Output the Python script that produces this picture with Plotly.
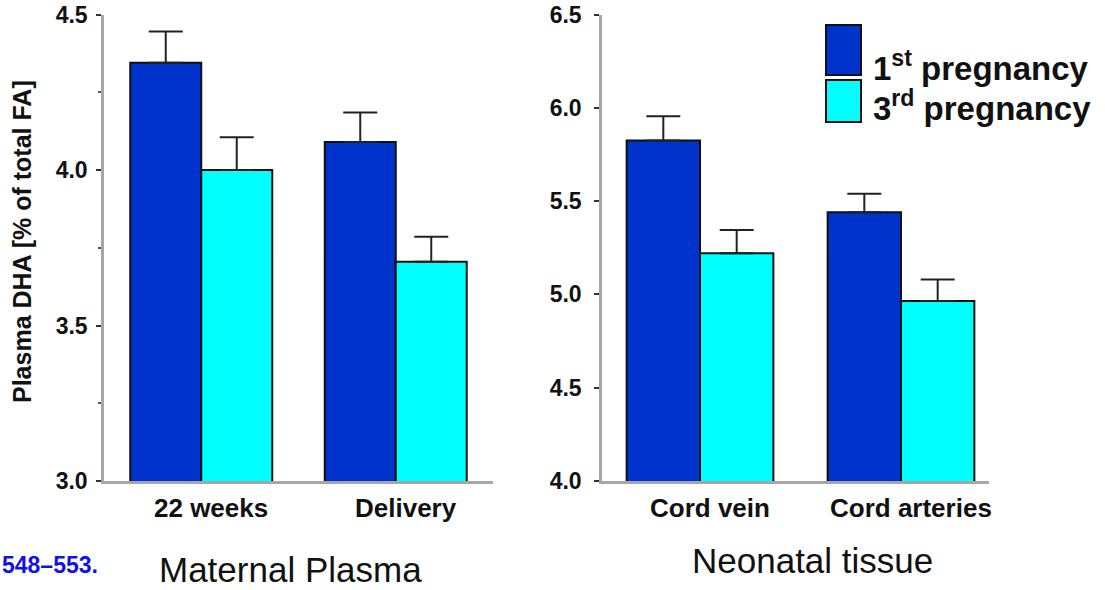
import plotly.graph_objects as go

# Data: plasma DHA (% of total fatty acids), mean and upper SEM
maternal_groups = ["22 weeks", "Delivery"]
neonatal_groups = ["Cord vein", "Cord arteries"]
series_names = ["1st pregnancy", "3rd pregnancy"]

maternal_first = [4.345, 4.09]
maternal_first_err = [0.10, 0.095]
maternal_third = [4.00, 3.705]
maternal_third_err = [0.105, 0.08]

neonatal_first = [5.825, 5.44]
neonatal_first_err = [0.13, 0.10]
neonatal_third = [5.22, 4.965]
neonatal_third_err = [0.125, 0.115]

maternal_ticks = [3.0, 3.5, 4.0, 4.5]
neonatal_ticks = [4.0, 4.5, 5.0, 5.5, 6.0, 6.5]

DARK = "#0033CC"
CYAN = "#00FFFF"
FONT = "Arial, Liberation Sans, sans-serif"
W, H = 1105, 590


def px(x):
    return x / W


def py(y):
    return 1 - y / H


def bar(x, y, err, name, color, xa, ya):
    return go.Bar(
        x=x, y=y, name=name, xaxis=xa, yaxis=ya,
        marker=dict(color=color, line=dict(color="#111111", width=2)),
        error_y=dict(type="data", symmetric=False, array=err,
                     arrayminus=[0] * len(err), color="#222222",
                     thickness=2, width=17),
        showlegend=False,
    )


fig = go.Figure()
fig.add_trace(bar(maternal_groups, maternal_first, maternal_first_err, series_names[0], DARK, "x", "y"))
fig.add_trace(bar(maternal_groups, maternal_third, maternal_third_err, series_names[1], CYAN, "x", "y"))
fig.add_trace(bar(neonatal_groups, neonatal_first, neonatal_first_err, series_names[0], DARK, "x2", "y2"))
fig.add_trace(bar(neonatal_groups, neonatal_third, neonatal_third_err, series_names[1], CYAN, "x2", "y2"))

axis_line = dict(showline=True, linecolor="#a6a6a6", linewidth=2.5, showgrid=False,
                 zeroline=False, automargin=False)
ytick_font = dict(family=FONT, size=23, color="#111111", weight="bold")

fig.update_layout(
    width=W, height=H,
    margin=dict(l=0, r=0, t=0, b=0, pad=0, autoexpand=False),
    paper_bgcolor="white", plot_bgcolor="white",
    barmode="group", bargap=0.27, bargroupgap=0,
    xaxis=dict(domain=[px(104), px(493)], range=[-0.5, 1.5], anchor="y",
               showticklabels=False, ticks="", **axis_line),
    yaxis=dict(domain=[py(481), py(14.5)], range=[3.0, 4.5], anchor="x",
               tickvals=maternal_ticks, tickformat=".1f", ticks="outside",
               ticklen=5, tickwidth=1.5, tickcolor="#333333", tickfont=ytick_font,
               ticklabelstandoff=4,
               minor=dict(dtick=0.25, ticks="outside", ticklen=3, tickwidth=1.5, tickcolor="#555555"),
               **axis_line),
    xaxis2=dict(domain=[px(602), px(989)], range=[-0.4876, 1.4378], anchor="y2",
                showticklabels=False, ticks="", **axis_line),
    yaxis2=dict(domain=[py(481), py(14.5)], range=[4.0, 6.5], anchor="x2",
                tickvals=neonatal_ticks, tickformat=".1f", ticks="outside",
                ticklen=5, tickwidth=1.5, tickcolor="#333333", tickfont=ytick_font,
                ticklabelstandoff=8, **axis_line),
)

annotations = []
# Category labels under each pair of bars
for ref, groups in (("x", maternal_groups), ("x2", neonatal_groups)):
    for g in groups:
        annotations.append(dict(x=g, y=py(508), xref=ref, yref="paper", text=f"<b>{g}</b>",
                                showarrow=False, xshift=10, xanchor="center", yanchor="middle",
                                font=dict(family=FONT, size=26, color="#111111")))

# Panel captions
annotations.append(dict(x=px(290), y=py(569), xref="paper", yref="paper", text="Maternal Plasma",
                        showarrow=False, xanchor="center", yanchor="middle",
                        font=dict(family=FONT, size=35, color="#111111")))
annotations.append(dict(x=px(812), y=py(560), xref="paper", yref="paper", text="Neonatal tissue",
                        showarrow=False, xanchor="center", yanchor="middle",
                        font=dict(family=FONT, size=35, color="#111111")))
annotations.append(dict(x=0, y=py(565), xref="paper", yref="paper", text="<b>548–553.</b>",
                        showarrow=False, xanchor="left", yanchor="middle",
                        font=dict(family=FONT, size=23, color="#1010EE")))

# Y-axis title
annotations.append(dict(x=px(22), y=py(242), xref="paper", yref="paper",
                        text="<b>Plasma DHA [% of total FA]</b>", textangle=-90,
                        showarrow=False, xanchor="center", yanchor="middle",
                        font=dict(family=FONT, size=25, color="#111111")))

# Legend
legend_rows = [(DARK, 25, 75, 66, "1<sup>st</sup> pregnancy"),
               (CYAN, 80, 122, 106, "3<sup>rd</sup> pregnancy")]
shapes = []
for color, y0, y1, ty, label in legend_rows:
    shapes.append(dict(type="rect", xref="paper", yref="paper",
                       x0=px(826), x1=px(861), y0=py(y1), y1=py(y0),
                       fillcolor=color, line=dict(color="#111111", width=2)))
    annotations.append(dict(x=px(871), y=py(ty), xref="paper", yref="paper",
                            text=f"<b>{label}</b>", showarrow=False,
                            xanchor="left", yanchor="middle",
                            font=dict(family=FONT, size=33, color="#111111")))

fig.update_layout(annotations=annotations, shapes=shapes)

fig.write_html("out.html")
